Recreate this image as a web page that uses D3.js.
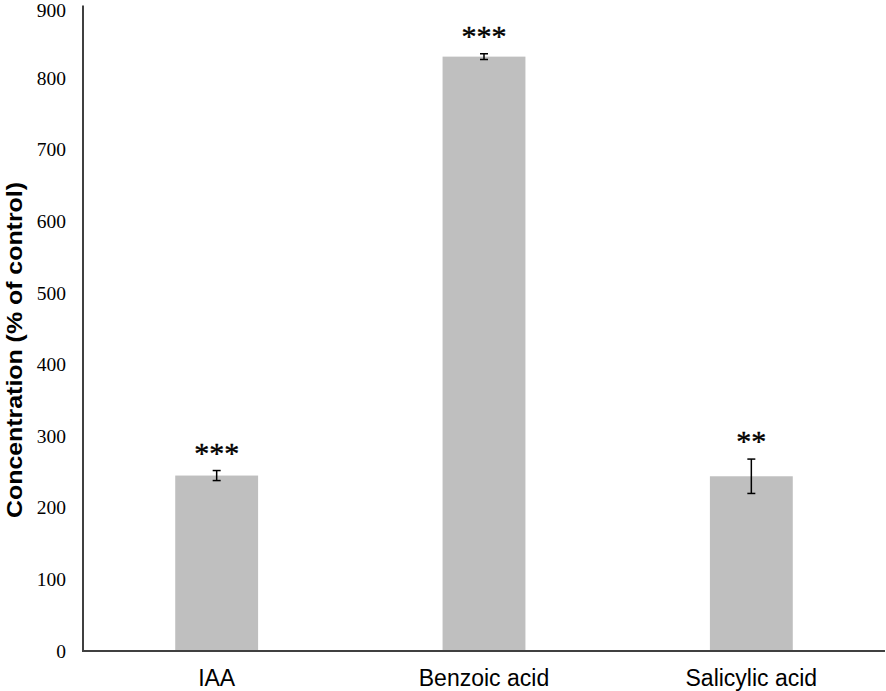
<!DOCTYPE html>
<html lang="en">
  <head>
    <meta charset="utf-8">
    <title>Concentration</title>
    <style>
      body { margin: 0; background: #fff; }
      .tick-label { font-family: "Liberation Serif", "Times New Roman", serif; font-size: 19.5px; fill: #000; }
      .cat-label { font-family: "Liberation Sans", Arial, sans-serif; font-size: 23px; fill: #000; }
      .y-title { font-family: "Liberation Sans", Arial, sans-serif; font-size: 22px; font-weight: bold; fill: #000; }
      .stars { font-family: "Liberation Serif", "Times New Roman", serif; font-size: 30px; fill: #000; stroke: #000; stroke-width: 0.4; }
    </style>
  </head>
  <body>
    <svg class="chart"></svg>
    <script src="https://d3js.org/d3.v7.min.js"></script>
    <script>
      // values
      const categories = ["IAA", "Benzoic acid", "Salicylic acid"];
      const values = [245, 830, 244];
      const errors = [7, 4, 24];
      const stars = ["***", "***", "**"];
      const yTicks = [0, 100, 200, 300, 400, 500, 600, 700, 800, 900];

      const W = 886, H = 691;
      const svg = d3.select(".chart").attr("width", W).attr("height", H);

      const x = d3.scaleBand().domain(categories).range([83, 885]).padding(0);
      const y = d3.scaleLinear().domain([0, 900]).range([651, 6.5]);
      const barW = x.bandwidth() * 0.31;

      const rows = categories.map((c, i) => ({name: c, value: values[i], err: errors[i], star: stars[i]}));

      // y tick labels (no tick marks); top one nudged down so it stays inside
      svg.append("g").selectAll("text")
        .data(yTicks).enter().append("text")
        .attr("class", "tick-label")
        .attr("x", 66)
        .attr("y", d => y(d))
        .attr("dy", d => d === 900 ? "0.55em" : "0.34em")
        .attr("text-anchor", "end")
        .text(d => d);

      // bars
      svg.append("g").selectAll("rect")
        .data(rows).enter().append("rect")
        .attr("x", d => x(d.name) + x.bandwidth() / 2 - barW / 2)
        .attr("y", d => y(d.value))
        .attr("width", barW)
        .attr("height", d => y(0) - y(d.value))
        .style("fill", "#bfbfbf");

      // error bars
      const eb = svg.append("g").attr("stroke", "#000").attr("stroke-width", 1.5);
      rows.forEach(d => {
        const cx = x(d.name) + x.bandwidth() / 2;
        eb.append("line").attr("x1", cx).attr("x2", cx).attr("y1", y(d.value + d.err)).attr("y2", y(d.value - d.err));
        eb.append("line").attr("x1", cx - 4).attr("x2", cx + 4).attr("y1", y(d.value + d.err)).attr("y2", y(d.value + d.err));
        eb.append("line").attr("x1", cx - 4).attr("x2", cx + 4).attr("y1", y(d.value - d.err)).attr("y2", y(d.value - d.err));
      });

      // significance stars
      svg.append("g").selectAll("text")
        .data(rows).enter().append("text")
        .attr("class", "stars")
        .attr("x", d => x(d.name) + x.bandwidth() / 2)
        .attr("y", d => y(d.value + d.err) - 8)
        .attr("text-anchor", "middle")
        .text(d => d.star);

      // axes lines
      svg.append("line").attr("x1", 83).attr("x2", 83).attr("y1", y(900) - 1).attr("y2", y(0) + 1)
        .attr("stroke", "#404040").attr("stroke-width", 2);
      svg.append("line").attr("x1", 82).attr("x2", 885).attr("y1", y(0)).attr("y2", y(0))
        .attr("stroke", "#404040").attr("stroke-width", 2);

      // category labels
      svg.append("g").selectAll("text")
        .data(categories).enter().append("text")
        .attr("class", "cat-label")
        .attr("x", d => x(d) + x.bandwidth() / 2)
        .attr("y", 686)
        .attr("text-anchor", "middle")
        .text(d => d);

      // y title
      svg.append("text")
        .attr("class", "y-title")
        .attr("transform", "translate(22,350) rotate(-90)")
        .attr("text-anchor", "middle")
        .attr("textLength", 336)
        .attr("lengthAdjust", "spacingAndGlyphs")
        .text("Concentration (% of control)");
    </script>
  </body>
</html>
